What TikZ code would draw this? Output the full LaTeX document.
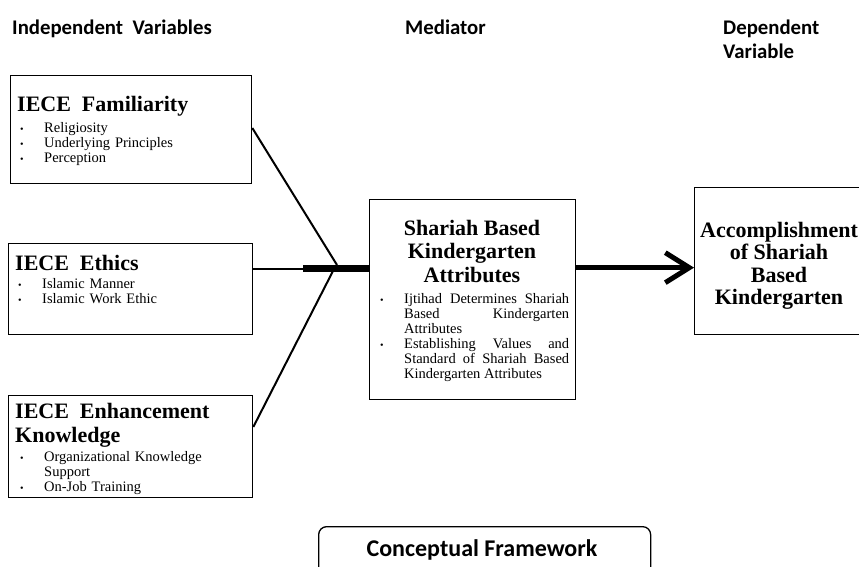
\documentclass[tikz,border=0pt]{standalone}
\usepackage{fontspec}
\setmainfont{Liberation Serif}
\newfontfamily\hdfont{Carlito}
\usetikzlibrary{arrows.meta,calc,positioning}

\hyphenpenalty=10000
\exhyphenpenalty=10000
\newcommand{\bul}[1]{\par\hangindent=24pt\hangafter=1\noindent\makebox[24pt][l]{\fontsize{10}{10}\selectfont\textbullet}#1}

\begin{document}
\begin{tikzpicture}[x=1pt,y=-1pt,
	hd/.style={anchor=base west,font=\hdfont\bfseries\fontsize{20.8}{24}\selectfont,inner sep=0},
	box/.style={draw,line width=1.3pt,anchor=north west},
	ttl/.style={font=\bfseries\fontsize{22}{23.5}\selectfont,inner sep=0},
	lst/.style={font=\fontsize{14.5}{15}\selectfont,inner sep=0,text width=#1,anchor=north west,align=left},
	thin/.style={line width=2pt}]
		\useasboundingbox (0,0) rectangle (859,567);
		\clip (0,0) rectangle (859,567);
		\node[hd] (indep) at (12,35) {Independent\ \ Variables};
		\node[hd] (medh) at (405,35) {Mediator};
		\node[hd,align=left,anchor=north west] (deph) at (723,20) {Dependent\\Variable};

		\node[box,minimum width=241,minimum height=108] (fam) at (10,75) {};
		\node[box,minimum width=244,minimum height=91] (eth) at (8,243) {};
		\node[box,minimum width=244,minimum height=102] (enh) at (8,395) {};
		\node[box,minimum width=206,minimum height=200] (med) at (369,199) {};
		\node[box,minimum width=190,minimum height=147] (dep) at (694,187) {};

		\node[ttl,anchor=base west] (famt) at (17,112) {IECE\ \ Familiarity};
		\node[lst=220pt] (faml) at (20,117) {\bul{Religiosity}\bul{Underlying Principles}\bul{Perception}\par};
		\node[ttl,anchor=base west] (etht) at (15,270) {IECE\ \ Ethics};
		\node[lst=220pt] (ethl) at (18,273) {\bul{Islamic Manner}\bul{Islamic Work Ethic}\par};
		\node[ttl,anchor=north west,align=left,font=\bfseries\fontsize{22}{24}\selectfont] (enht) at (15,403) {IECE\ \ Enhancement\\Knowledge};
		\node[lst=190pt] (enhl) at (20,446) {\bul{Organizational Knowledge Support}\bul{On-Job Training}\par};

		\node[ttl,anchor=north,align=center] (medt) at (472,220) {Shariah Based\\Kindergarten\\Attributes};
		\node[lst=189pt,align=justify] (medl) at (380,288) {\bul{Ijtihad Determines Shariah Based Kindergarten Attributes}\bul{Establishing Values and Standard of Shariah Based Kindergarten Attributes}\par};
		\node[ttl,anchor=north,align=center,font=\bfseries\fontsize{22}{22.5}\selectfont] (dept) at (779,222) {Accomplishment\\of Shariah\\Based\\Kindergarten};

		\coordinate (j1) at (337,265);
		\coordinate (j2) at (333,271);
		\coordinate (bar) at (303,268.5);
		\coordinate (arr) at ($(med.east)+(0,-32)$);
		\draw[thin] ($(fam.north east)+(0,53)$) -- (j1);
		\draw[thin] ($(enh.north east)+(0,32)$) -- (j2);
		\draw[thin] ($(eth.north east)+(0,25.5)$) -- (bar);
		\draw[line width=7pt] (bar) -- (med.west|-bar);
		\draw[line width=5pt,-{Straight Barb[length=24pt,width=30pt]}] (arr) -- (dep.west|-arr);

		\node[box,rounded corners=8pt,minimum width=332,minimum height=60] (cf) at (318,526) {};
		\node[hd,anchor=base] (cft) at (482,556) {\fontsize{24}{26}\selectfont Conceptual Framework};
\end{tikzpicture}
\end{document}
